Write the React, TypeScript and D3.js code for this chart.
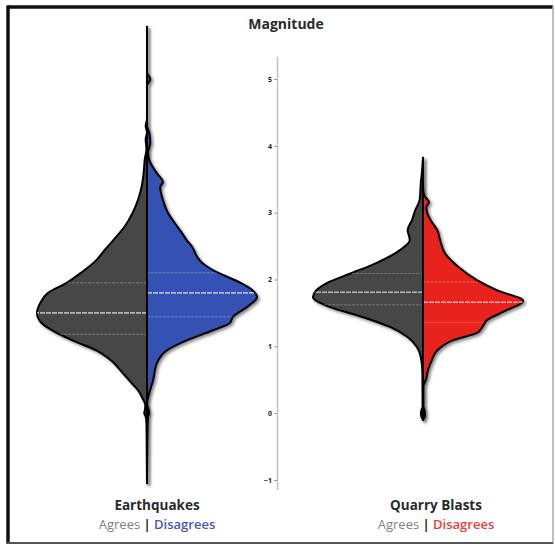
import { useEffect, useRef } from 'react';
import * as d3 from 'd3';

// categories and the tick values of the magnitude axis
const categories = ['Earthquakes', 'Quarry Blasts'];
const yTicks = [-1, 0, 1, 2, 3, 4, 5];

// half-violin profiles: [magnitude, relative density]
const eqAgrees: [number, number][] = [
  [5.78, 0], [4.4, 0], [4.3, 0.012], [4.2, 0], [4.1, 0.012], [3.95, 0.005],
  [3.8, 0.02], [3.6, 0.03], [3.38, 0.05], [3.2, 0.08], [3.0, 0.13], [2.8, 0.2],
  [2.6, 0.3], [2.45, 0.38], [2.29, 0.46], [2.1, 0.6], [1.95, 0.73], [1.8, 0.9],
  [1.65, 0.97], [1.5, 1.0], [1.35, 0.96], [1.2, 0.82], [1.07, 0.65], [0.94, 0.46],
  [0.78, 0.32], [0.6, 0.22], [0.45, 0.14], [0.34, 0.08], [0.22, 0.04], [0.12, 0.015],
  [0.04, 0.02], [0.0, 0.025], [-0.06, 0.01], [-0.2, 0.004], [-1.05, 0],
];
const eqDisagrees: [number, number][] = [
  [5.78, 0], [5.1, 0], [5.0, 0.03], [4.9, 0], [4.3, 0], [4.2, 0.02], [4.05, 0.03],
  [3.9, 0.01], [3.79, 0.02], [3.59, 0.09], [3.46, 0.145], [3.38, 0.12], [3.19, 0.145],
  [3.0, 0.19], [2.85, 0.25], [2.69, 0.32], [2.59, 0.36], [2.49, 0.41], [2.34, 0.455],
  [2.25, 0.5], [2.14, 0.6], [1.95, 0.85], [1.85, 0.95], [1.74, 1.0], [1.59, 0.91],
  [1.44, 0.78], [1.35, 0.755], [1.24, 0.6], [1.09, 0.36], [0.94, 0.18], [0.75, 0.09],
  [0.49, 0.055], [0.3, 0.02], [0.15, 0], [0.0, 0.02], [-0.06, 0.008], [-1.05, 0],
];
const qbAgrees: [number, number][] = [
  [3.82, 0], [3.6, 0.01], [3.44, 0.02], [3.19, 0.03], [3.04, 0.07], [2.89, 0.1],
  [2.74, 0.14], [2.59, 0.12], [2.44, 0.21], [2.25, 0.42], [2.09, 0.66], [1.95, 0.87],
  [1.84, 0.97], [1.74, 1.0], [1.59, 0.85], [1.44, 0.55], [1.29, 0.3], [1.14, 0.14],
  [0.99, 0.055], [0.84, 0.02], [0.6, 0.005], [0.1, 0.004], [0.02, 0.018], [-0.03, 0.018],
  [-0.1, 0],
];
const qbDisagrees: [number, number][] = [
  [3.82, 0], [3.4, 0], [3.26, 0.01], [3.16, 0.055], [3.08, 0.03], [2.99, 0.04],
  [2.86, 0.08], [2.74, 0.13], [2.59, 0.155], [2.39, 0.2], [2.19, 0.32], [1.99, 0.49],
  [1.84, 0.67], [1.68, 0.91], [1.54, 0.76], [1.39, 0.58], [1.29, 0.54], [1.2, 0.49],
  [1.09, 0.27], [0.94, 0.13], [0.79, 0.08], [0.64, 0.045], [0.52, 0.03], [0.4, 0.004],
  [0.1, 0.004], [0.02, 0.018], [-0.03, 0.018], [-0.1, 0],
];

// lower quartile, median, upper quartile
const eqAgreesQuartiles = [1.18, 1.5, 1.95];
const eqDisagreesQuartiles = [1.44, 1.8, 2.1];
const qbAgreesQuartiles = [1.62, 1.81, 2.09];
const qbDisagreesQuartiles = [1.36, 1.66, 1.96];

const agreeColor = '#474747';
const disagreeColors = ['#3551b3', '#e8211f'];
const disagreeTextColors = ['#4955b8', '#ee3d37'];

const W = 555;
const H = 546;
const FONT = '"Open Sans", "Noto Sans", sans-serif';

export default function App() {
  const axisRef = useRef<SVGGElement>(null);

  const y = d3.scaleLinear().domain([-1, 5]).range([480, 79]);
  const x = d3.scalePoint<string>().domain(categories).range([147, 423]);
  const w = d3.scaleLinear().domain([0, 1]).range([0, 110]);

  const halves = [
    { key: 'eqA', cat: categories[0], side: -1, data: eqAgrees, q: eqAgreesQuartiles, fill: agreeColor },
    { key: 'eqD', cat: categories[0], side: 1, data: eqDisagrees, q: eqDisagreesQuartiles, fill: disagreeColors[0] },
    { key: 'qbA', cat: categories[1], side: -1, data: qbAgrees, q: qbAgreesQuartiles, fill: agreeColor },
    { key: 'qbD', cat: categories[1], side: 1, data: qbDisagrees, q: qbDisagreesQuartiles, fill: disagreeColors[1] },
  ];

  const areaFor = (cx: number, side: number) =>
    d3
      .area<[number, number]>()
      .y((d) => y(d[0]))
      .x0(cx)
      .x1((d) => cx + side * w(d[1]))
      .curve(d3.curveMonotoneY);

  useEffect(() => {
    // magnitude axis in the middle
    const g = d3.select(axisRef.current);
    g.selectAll('*').remove();
    g.call(d3.axisLeft(y).tickValues(yTicks).tickFormat(d3.format('d')).tickSize(3).tickPadding(2));
    g.select('.domain').remove();
    g.selectAll('.tick line').attr('stroke', '#999');
    g.selectAll('.tick text')
      .attr('fill', '#222')
      .style('font-size', '7px')
      .style('font-weight', 'bold')
      .style('font-family', FONT);
  }, []);

  return (
    <svg width={W} height={H} style={{ position: 'absolute', left: 0, top: 0 }}>
      <defs>
        <filter id="shadow" x="-20%" y="-20%" width="140%" height="140%">
          <feDropShadow dx="2" dy="2" stdDeviation="1.6" floodColor="#000" floodOpacity="0.45" />
        </filter>
        {halves.map((h) => (
          <clipPath id={`clip-${h.key}`} key={h.key}>
            <path d={areaFor(x(h.cat) as number, h.side)(h.data) || ''} />
          </clipPath>
        ))}
      </defs>
      <rect x={0} y={0} width={W} height={H} fill="#fff" />

      {/* frame */}
      <line x1={7.5} y1={7} x2={553} y2={7} stroke="#111" strokeWidth={3.5} />
      <line x1={8} y1={5.5} x2={8} y2={544} stroke="#111" strokeWidth={3.5} />
      <line x1={553} y1={6} x2={553} y2={544} stroke="#aaa" strokeWidth={1.5} />
      <line x1={7} y1={543} x2={553} y2={543} stroke="#555" strokeWidth={2} />

      <text x={286} y={29} textAnchor="middle" fontFamily={FONT} fontWeight="bold" fontSize={14} fill="#2a2a2a">
        Magnitude
      </text>

      <line x1={277.5} y1={57} x2={277.5} y2={490} stroke="#c4c4c4" strokeWidth={1.5} />
      <g ref={axisRef} transform="translate(277,0)" />

      {halves.map((h) => {
        const cx = x(h.cat) as number;
        return (
          <g key={h.key}>
            <path
              d={areaFor(cx, h.side)(h.data) || ''}
              fill={h.fill}
              stroke="#000"
              strokeWidth={2}
              strokeLinejoin="round"
              filter="url(#shadow)"
            />
            <g clipPath={`url(#clip-${h.key})`}>
              {h.q.map((v, i) => (
                <line
                  key={i}
                  x1={cx}
                  x2={cx + h.side * 130}
                  y1={y(v)}
                  y2={y(v)}
                  stroke="#fff"
                  strokeOpacity={i === 1 ? 0.6 : 0.22}
                  strokeWidth={i === 1 ? 1.6 : 1.2}
                  strokeDasharray={i === 1 ? '5 1' : '3 1'}
                />
              ))}
            </g>
            <line
              x1={cx}
              x2={cx}
              y1={y(h.data[0][0])}
              y2={y(h.data[h.data.length - 1][0])}
              stroke="#000"
              strokeWidth={1.5}
            />
          </g>
        );
      })}

      {categories.map((c, i) => {
        const tx = (x(c) as number) + (i === 0 ? 10 : 13);
        return (
          <g key={c} fontFamily={FONT} fontSize={13}>
            <text x={tx} y={510} textAnchor="middle" fontWeight="bold" fontSize={13.5} fill="#2a2a2a">
              {c}
            </text>
            <text x={tx} y={529} textAnchor="middle">
              <tspan fill="#808080">Agrees </tspan>
              <tspan fill="#2a2a2a" fontWeight="bold">|</tspan>
              <tspan fill={disagreeTextColors[i]} fontWeight="600"> Disagrees</tspan>
            </text>
          </g>
        );
      })}
    </svg>
  );
}
